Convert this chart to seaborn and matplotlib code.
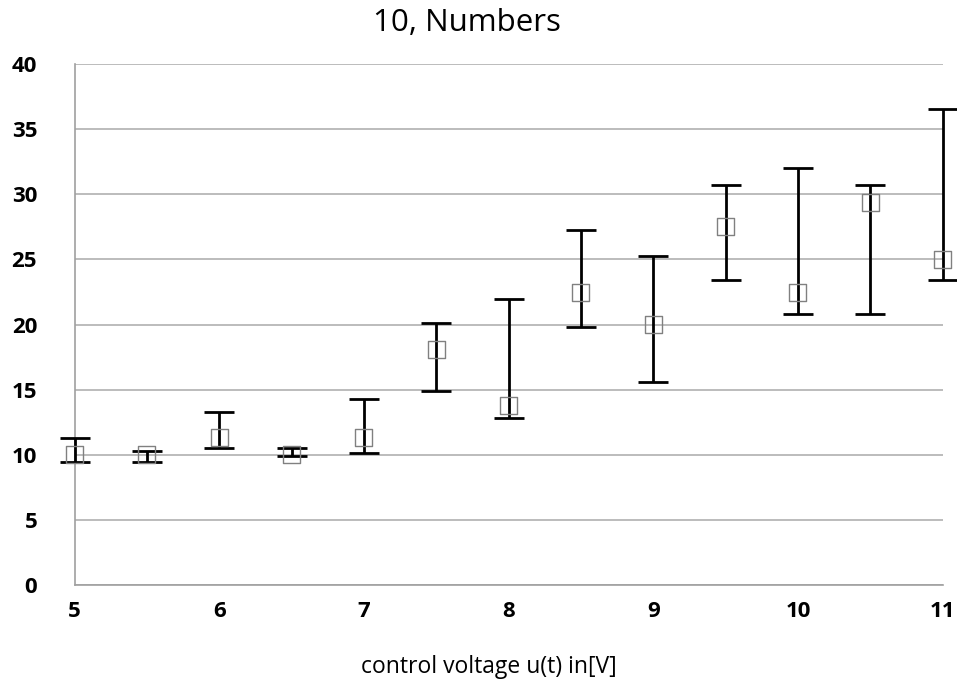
"""
Error-bar chart: 10, Numbers vs control voltage.
"""

import numpy as np
import pandas as pd
import matplotlib.pyplot as plt
import seaborn as sns

voltage = [5.0, 5.5, 6.0, 6.5, 7.0, 7.5, 8.0, 8.5, 9.0, 9.5, 10.0, 10.5, 11.0]
mean_val = [10.0, 10.0, 11.3, 10.0, 11.3, 18.1, 13.8, 22.5, 20.0, 27.5, 22.5, 29.4, 25.0]
upper = [11.3, 10.3, 13.3, 10.5, 14.3, 20.1, 22.0, 27.3, 25.3, 30.7, 32.0, 30.7, 36.6]
lower = [9.4, 9.4, 10.5, 9.9, 10.1, 14.9, 12.8, 19.8, 15.6, 23.4, 20.8, 20.8, 23.4]

x_ticks = [5, 6, 7, 8, 9, 10, 11]
y_ticks = [0, 5, 10, 15, 20, 25, 30, 35, 40]

sns.set_style("white")
plt.rcParams["font.family"] = ["Open Sans", "DejaVu Sans"]
plt.rcParams["text.color"] = "black"
plt.rcParams["xtick.labelcolor"] = "black"
plt.rcParams["ytick.labelcolor"] = "black"

df = pd.DataFrame({"u": voltage, "n": mean_val, "hi": upper, "lo": lower})
err = np.vstack([df["n"] - df["lo"], df["hi"] - df["n"]])

fig = plt.figure(figsize=(9.57, 6.84), dpi=100)
ax = fig.add_axes([0.078, 0.145, 0.907, 0.761])

# error bars first, hollow squares on top
ax.errorbar(df["u"], df["n"], yerr=err, fmt="none", ecolor="black",
            elinewidth=2.0, capsize=11, capthick=2.0, zorder=3, clip_on=False)
sns.scatterplot(data=df, x="u", y="n", marker="s", s=150, facecolor="none",
                edgecolor="#808080", linewidth=1.0, ax=ax, zorder=4, clip_on=False)

ax.set_xlim(5, 11)
ax.set_ylim(0, 40)
ax.set_xticks(x_ticks)
ax.set_yticks(y_ticks)
ax.yaxis.grid(True, color="#b0b0b0", linewidth=1.2)
ax.xaxis.grid(False)
for side in ["top", "right"]:
    ax.spines[side].set_visible(False)
for side in ["left", "bottom"]:
    ax.spines[side].set_color("#a0a0a0")
    ax.spines[side].set_linewidth(1.2)

ax.tick_params(axis="y", length=4, color="#a0a0a0", pad=23, labelsize=16)
ax.tick_params(axis="x", length=4, color="#a0a0a0", pad=8, labelsize=16)
for lab in ax.get_xticklabels() + ax.get_yticklabels():
    lab.set_fontweight("bold")

ax.set_ylabel("")
ax.set_xlabel("control voltage u(t) in[V]", fontsize=16.5, color="black")
ax.xaxis.set_label_coords(0.477, -0.135)

fig.text(0.488, 0.966, "10, Numbers", ha="center", va="center", fontsize=22.5)

fig.savefig("out.png", dpi=100)
